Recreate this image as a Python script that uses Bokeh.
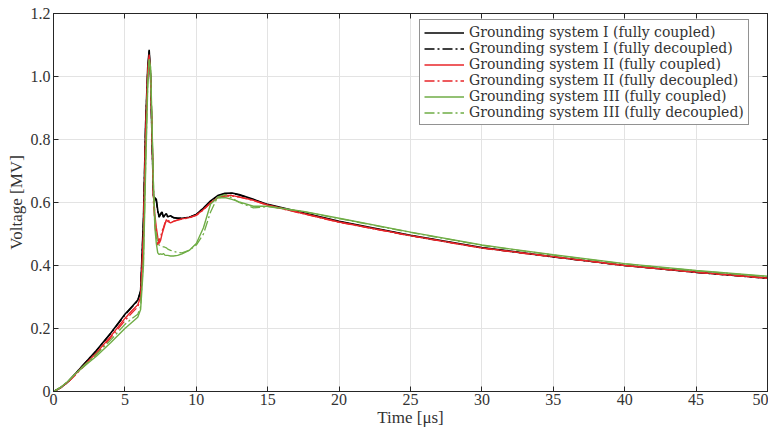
from bokeh.plotting import figure
from bokeh.models import Range1d, FixedTicker, LinearAxis, Legend, LegendItem, PrintfTickFormatter
from bokeh.embed import file_html
from bokeh.resources import INLINE

# ---------------- data ----------------
t = [0, 0.5, 1, 1.5, 2, 3, 4, 5, 5.5, 5.9, 6.1, 6.3, 6.45, 6.6, 6.7, 6.8, 6.9, 7.0,
     7.1, 7.2, 7.3, 7.4, 7.5, 7.6, 7.7, 7.8, 7.9, 8.0, 8.2, 8.4, 8.7, 9.0, 9.5, 10,
     10.5, 11, 11.5, 12, 12.5, 13, 14, 15, 17.5, 20, 25, 30, 35, 40, 45, 50]

gs1_coupled = [0, 0.012, 0.03, 0.055, 0.08, 0.13, 0.185, 0.245, 0.27, 0.29, 0.32, 0.55, 0.85, 1.03, 1.085, 1.0, 0.8, 0.62,
               0.615, 0.61, 0.575, 0.553, 0.565, 0.57, 0.553, 0.56, 0.565, 0.555, 0.558, 0.552, 0.55, 0.55, 0.553, 0.562,
               0.582, 0.605, 0.622, 0.629, 0.63, 0.625, 0.61, 0.594, 0.567, 0.54, 0.496, 0.457, 0.428, 0.40, 0.379, 0.36]
gs1_decoupled = [0, 0.012, 0.03, 0.055, 0.08, 0.129, 0.184, 0.243, 0.268, 0.288, 0.318, 0.54, 0.84, 1.02, 1.08, 1.0, 0.8, 0.62,
                 0.612, 0.605, 0.57, 0.555, 0.562, 0.565, 0.555, 0.558, 0.56, 0.555, 0.556, 0.552, 0.55, 0.55, 0.553, 0.562,
                 0.582, 0.604, 0.621, 0.628, 0.629, 0.624, 0.609, 0.593, 0.566, 0.539, 0.495, 0.456, 0.427, 0.40, 0.378, 0.359]
gs2_coupled = [0, 0.012, 0.03, 0.053, 0.077, 0.122, 0.175, 0.232, 0.257, 0.275, 0.30, 0.50, 0.82, 1.02, 1.07, 1.0, 0.82, 0.63,
               0.56, 0.52, 0.49, 0.47, 0.48, 0.50, 0.515, 0.53, 0.545, 0.54, 0.535, 0.54, 0.545, 0.548, 0.552, 0.56,
               0.578, 0.60, 0.615, 0.622, 0.622, 0.618, 0.607, 0.592, 0.565, 0.538, 0.495, 0.456, 0.428, 0.40, 0.379, 0.36]
gs2_decoupled = [0, 0.012, 0.029, 0.051, 0.074, 0.118, 0.17, 0.225, 0.25, 0.268, 0.295, 0.49, 0.8, 1.01, 1.065, 1.0, 0.82, 0.60,
                 0.53, 0.49, 0.465, 0.48, 0.49, 0.51, 0.52, 0.535, 0.54, 0.545, 0.537, 0.54, 0.544, 0.547, 0.551, 0.559,
                 0.577, 0.598, 0.613, 0.62, 0.621, 0.617, 0.606, 0.591, 0.564, 0.537, 0.494, 0.455, 0.427, 0.40, 0.378, 0.359]
gs3_coupled = [0, 0.013, 0.032, 0.055, 0.075, 0.112, 0.155, 0.20, 0.22, 0.236, 0.26, 0.40, 0.70, 0.97, 1.055, 1.03, 0.85, 0.65,
               0.52, 0.47, 0.44, 0.435, 0.437, 0.435, 0.438, 0.433, 0.432, 0.432, 0.43, 0.43, 0.432, 0.437, 0.448, 0.47,
               0.52, 0.595, 0.615, 0.616, 0.61, 0.602, 0.588, 0.588, 0.572, 0.55, 0.506, 0.465, 0.434, 0.406, 0.384, 0.366]
gs3_decoupled = [0, 0.013, 0.032, 0.055, 0.077, 0.118, 0.163, 0.213, 0.232, 0.245, 0.27, 0.42, 0.72, 0.98, 1.05, 1.02, 0.84, 0.66,
                 0.55, 0.50, 0.47, 0.465, 0.462, 0.46, 0.459, 0.458, 0.456, 0.452, 0.448, 0.445, 0.441, 0.44, 0.448, 0.465,
                 0.50, 0.57, 0.618, 0.625, 0.615, 0.60, 0.583, 0.587, 0.571, 0.549, 0.505, 0.464, 0.433, 0.405, 0.383, 0.365]

labels = ["Grounding system I (fully coupled)", "Grounding system I (fully decoupled)",
          "Grounding system II (fully coupled)", "Grounding system II (fully decoupled)",
          "Grounding system III (fully coupled)", "Grounding system III (fully decoupled)"]
x_ticks = [0, 5, 10, 15, 20, 25, 30, 35, 40, 45, 50]
y_ticks = [0, 0.2, 0.4, 0.6, 0.8, 1.0, 1.2]

# ---------------- styling ----------------
FONT = "Liberation Serif"
LEG_FONT = "DejaVu Serif"
TXT = "#333333"
EDGE = "#262626"
BLACK = "#000000"
RED = "#e8262a"
GREEN = "#6fad46"
DASHDOT = "10 3 2 3"

p = figure(width=768, height=429, output_backend="svg", toolbar_location=None,
           x_range=Range1d(0, 50), y_range=Range1d(0, 1.2),
           min_border_left=53, min_border_right=1, min_border_top=13, min_border_bottom=36)
p.background_fill_color = "white"
p.border_fill_color = "white"
p.outline_line_color = EDGE
p.outline_line_width = 1

series = [gs1_coupled, gs1_decoupled, gs2_coupled, gs2_decoupled, gs3_coupled, gs3_decoupled]
colors = [BLACK, BLACK, RED, RED, GREEN, GREEN]
dashes = ["solid", DASHDOT, "solid", DASHDOT, "solid", DASHDOT]
widths = [1.6, 1.4, 1.4, 1.3, 1.4, 1.3]

items = []
for s, c, d, w, lab in zip(series, colors, dashes, widths, labels):
    r = p.line(t, s, line_color=c, line_dash=d, line_width=w)
    items.append(LegendItem(label=lab, renderers=[r]))

# legend placed at the frame's upper right (x, y = frame offsets of its lower-left corner)
legend = Legend(items=items, location=(366, 266), padding=4, spacing=0,
                label_text_font=LEG_FONT, label_text_font_size="14px", label_text_color=TXT,
                label_height=15, glyph_height=15, glyph_width=40, label_standoff=5,
                border_line_color=EDGE, border_line_width=1, background_fill_alpha=1.0)
p.add_layout(legend)

# axes
for ax in (p.xaxis[0], p.yaxis[0]):
    ax.major_tick_in = 5
    ax.major_tick_out = 0
    ax.minor_tick_line_color = None
    ax.axis_line_color = EDGE
    ax.major_tick_line_color = EDGE
    ax.major_label_text_font = FONT
    ax.major_label_text_font_size = "16px"
    ax.major_label_text_color = TXT
    ax.axis_label_text_font = FONT
    ax.axis_label_text_font_size = "17px"
    ax.axis_label_text_font_style = "normal"
    ax.axis_label_text_color = TXT

p.xaxis[0].ticker = FixedTicker(ticks=x_ticks)
p.yaxis[0].ticker = FixedTicker(ticks=y_ticks)
p.xaxis[0].axis_label = "Time [μs]"
p.yaxis[0].axis_label = "Voltage [MV]"
p.xaxis[0].major_label_standoff = 2
p.xaxis[0].axis_label_standoff = 0
p.yaxis[0].major_label_standoff = 3
p.yaxis[0].axis_label_standoff = 2
p.yaxis[0].formatter = PrintfTickFormatter(format="%.1f")
p.yaxis[0].major_label_overrides = {0: "0"}

# mirrored ticks on top and right (tick marks only, no labels)
top = LinearAxis(ticker=FixedTicker(ticks=x_ticks), major_tick_in=5, major_tick_out=0,
                 minor_tick_line_color=None, major_label_text_font_size="0px",
                 major_label_text_color=None,
                 major_label_standoff=0, axis_line_color=EDGE, major_tick_line_color=EDGE)
right = LinearAxis(ticker=FixedTicker(ticks=y_ticks), major_tick_in=5, major_tick_out=0,
                   minor_tick_line_color=None, major_label_text_font_size="0px",
                   major_label_text_color=None,
                   major_label_standoff=0, axis_line_color=EDGE, major_tick_line_color=EDGE)
p.add_layout(top, "above")
p.add_layout(right, "right")

p.xgrid.grid_line_color = "#e3e3e3"
p.ygrid.grid_line_color = "#e3e3e3"
p.xgrid.ticker = FixedTicker(ticks=x_ticks)
p.ygrid.ticker = FixedTicker(ticks=y_ticks)

open("out.html", "w").write(file_html(p, INLINE))
